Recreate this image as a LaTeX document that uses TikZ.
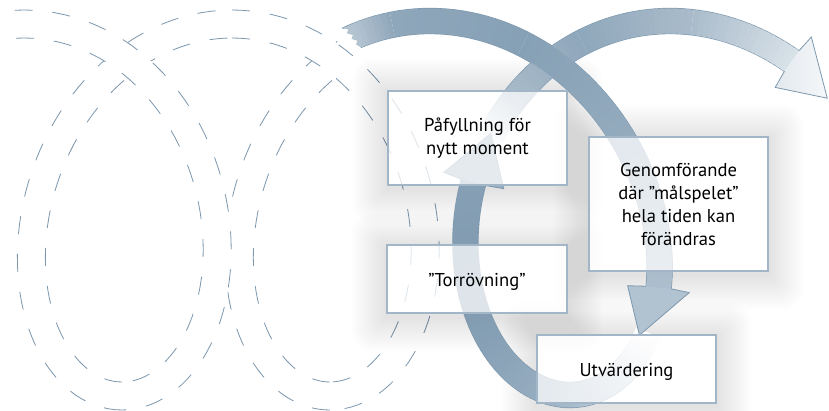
\documentclass[tikz,border=0pt]{standalone}
\usepackage{fontspec}
\setmainfont{PT Sans}
\usetikzlibrary{calc}
\pgfdeclarelayer{dash}
\pgfdeclarelayer{shad}
\pgfdeclarelayer{arcs}
\pgfsetlayers{dash,shad,arcs,main}
\definecolor{dashc}{HTML}{7B96AD}
\definecolor{bd}{HTML}{7D98AE}
\definecolor{boxc}{HTML}{A3B6C7}
\definecolor{c1a}{HTML}{B3C3D0}
\definecolor{c1b}{HTML}{8FA7BB}
\definecolor{c1c}{HTML}{86A0B5}
\definecolor{c1d}{HTML}{94ABBE}
\definecolor{c1e}{HTML}{ADBFCD}
\definecolor{c1h}{HTML}{B1C2D0}
\definecolor{c2a}{HTML}{C2D0DB}
\definecolor{c2b}{HTML}{96ADC0}
\definecolor{c2c}{HTML}{7F99AF}
\definecolor{c2d}{HTML}{869FB4}
\definecolor{c2h}{HTML}{9AAFC1}
\definecolor{c3a}{HTML}{A7BACA}
\definecolor{c3b}{HTML}{8FA7BB}
\definecolor{c3c}{HTML}{AABCCB}
\definecolor{c3d}{HTML}{D9E2E9}
\definecolor{c3h}{HTML}{E3E9EE}
\definecolor{c3t}{HTML}{F5F7F9}

\def\PX{0}\def\PS{0}\def\PR{0}\def\PC{0}\def\PY{0}\def\PRy{0}
\def\setdash{\def\PX{24}\def\PS{33.1}\def\PR{141}\def\PC{-3}\def\PY{210}\def\PRy{186}}
\def\setcol{\def\PX{430}\def\PS{38.2}\def\PR{152}\def\PC{10}\def\PY{208}\def\PRy{187}}

\pgfmathdeclarefunction{ex}{2}{%
  \begingroup
  \pgfmathparse{\PS+\PR*cos(deg(#1))+\PC*sin(deg(#1))}\let\dxx\pgfmathresult
  \pgfmathparse{\PRy*sin(deg(#1))}\let\dyy\pgfmathresult
  \pgfmathparse{veclen(\dxx,\dyy)}\let\lnn\pgfmathresult
  \pgfmathparse{\PX+\PS*(#1)+\PR*sin(deg(#1))+\PC*(1-cos(deg(#1)))-(#2)*(\dyy)/(\lnn)}%
  \pgfmathsmuggle\pgfmathresult
  \endgroup}
\pgfmathdeclarefunction{ey}{2}{%
  \begingroup
  \pgfmathparse{\PS+\PR*cos(deg(#1))+\PC*sin(deg(#1))}\let\dxx\pgfmathresult
  \pgfmathparse{\PRy*sin(deg(#1))}\let\dyy\pgfmathresult
  \pgfmathparse{veclen(\dxx,\dyy)}\let\lnn\pgfmathresult
  \pgfmathparse{\PY-\PRy*cos(deg(#1))+(#2)*(\dxx)/(\lnn)}%
  \pgfmathsmuggle\pgfmathresult
  \endgroup}

% dashed band piece: white band then dashed edges
\newcommand\dpiece[2]{%
  \fill[white] plot[domain=#1:#2,samples=60,variable=\t] ({ex(\t,-14)},{ey(\t,-14)})
     -- plot[domain=#2:#1,samples=60,variable=\t] ({ex(\t,14)},{ey(\t,14)}) -- cycle;
  \draw[dsh] plot[domain=#1:#2,samples=60,variable=\t] ({ex(\t,-14)},{ey(\t,-14)});
  \draw[dsh] plot[domain=#1:#2,samples=60,variable=\t] ({ex(\t,14)},{ey(\t,14)});
}
% graded fill of the colored band
\newcommand\gfill[5]{%
  \foreach \i in {1,...,#3}{%
    \pgfmathsetmacro\ta{#1+(\i-1)*(#2-#1)/#3}%
    \pgfmathsetmacro\tb{min(#1+(\i+0.4)*(#2-#1)/#3,#2)}%
    \pgfmathtruncatemacro\pc{100*(\i-0.5)/#3}%
    \fill[#5!\pc!#4] ({ex(\ta,-\HW)},{ey(\ta,-\HW)}) -- ({ex(\tb,-\HW)},{ey(\tb,-\HW)})
      -- ({ex(\tb,\HW)},{ey(\tb,\HW)}) -- ({ex(\ta,\HW)},{ey(\ta,\HW)}) -- cycle;
  }}
% graded edges of the colored band
\newcommand\gedge[5]{%
  \foreach \i in {1,...,#3}{%
    \pgfmathsetmacro\ta{#1+(\i-1)*(#2-#1)/#3}%
    \pgfmathsetmacro\tb{#1+\i*(#2-#1)/#3}%
    \pgfmathtruncatemacro\pc{100*(\i-0.5)/#3}%
    \draw[#5!\pc!#4, line width=1.3pt, line cap=round]
      ({ex(\ta,-\HW)},{ey(\ta,-\HW)}) -- ({ex(\tb,-\HW)},{ey(\tb,-\HW)})
      ({ex(\ta,\HW)},{ey(\ta,\HW)}) -- ({ex(\tb,\HW)},{ey(\tb,\HW)});
  }}

\begin{document}
\begin{tikzpicture}[x=1pt,y=-1pt,
  dsh/.style={draw=dashc,line width=0.8pt,dash pattern=on 18pt off 20pt},
  box/.style={draw=boxc,line width=1.3pt,fill=white,fill opacity=0.74,text opacity=1,
    align=center,inner sep=0pt,text=black,font=\fontsize{18.6}{23}\selectfont},
  headline/.style={draw=bd,line width=0.8pt,line join=miter}]
\useasboundingbox (0,0) rectangle (829,411);

% ---------- dashed earlier loops ----------
\begin{pgfonlayer}{dash}
\fill[white] (0,0) rectangle (829,411);
\setdash
\dpiece{pi}{2*pi}
\dpiece{3*pi}{12.0}
\dpiece{-0.05}{pi}
\dpiece{2*pi}{3*pi}
\end{pgfonlayer}

% ---------- boxes ----------
\node[box, minimum width=179pt, minimum height=94pt] (pf) at (477.5,138) {Påfyllning för\\nytt moment};
\node[box, minimum width=179pt, minimum height=134pt] (gf) at (678.5,204) {Genomförande\\där ”målspelet”\\hela tiden kan\\förändras};
\node[box, minimum width=180pt, minimum height=68pt, text height=19pt, text depth=4.5pt] (tr) at (477,279) {”Torrövning”};
\node[box, minimum width=179pt, minimum height=68pt, text height=19pt, text depth=4.5pt] (ut) at (626.5,369) {Utvärdering};

% ---------- soft shadows (outside the boxes only) ----------
\begin{pgfonlayer}{shad}
\foreach \n in {pf,gf,tr,ut}{%
  \foreach \k in {1,...,14}{%
    \pgfmathsetmacro\rc{\k*1.6}%
    \pgfmathsetmacro\dd{\k*2.5}%
    \fill[black,opacity=0.007,even odd rule]
      [rounded corners=\rc pt] ([shift={(-\dd,-\dd+3)}]\n.north west) rectangle ([shift={(\dd,\dd+3)}]\n.south east)
      [sharp corners] (\n.north west) rectangle (\n.south east);
  }}
\end{pgfonlayer}

% ---------- coloured spiral arrows ----------
\begin{pgfonlayer}{arcs}
\setcol
\def\HW{12.5}
% edges (drawn first, fills cover inner halves)
\draw[bd, line width=1.3pt] plot[domain=-0.45:-0.40,samples=4,variable=\t] ({ex(\t,-12.5)},{ey(\t,-12.5)});
\gedge{-0.40}{2.02}{60}{bd}{bd}
\gedge{2.3}{2.75}{15}{white}{bd}
\gedge{2.75}{4.86}{55}{bd}{bd}
\gedge{5.05}{5.35}{10}{white}{bd}
\gedge{5.35}{6.96}{45}{bd}{bd}
% arc 3
\gfill{5.05}{5.35}{10}{white}{c3a}
\gfill{5.35}{5.8}{14}{c3a}{c3b}
\gfill{5.8}{6.4}{18}{c3b}{c3c}
\gfill{6.4}{6.96}{18}{c3c}{c3d}
% arc 2
\gfill{2.3}{2.75}{14}{white}{c2a}
\gfill{2.75}{3.4}{20}{c2a}{c2b}
\gfill{3.4}{4.2}{24}{c2b}{c2c}
\gfill{4.2}{4.86}{20}{c2c}{c2d}
% arc 1 with jagged start
\fill[c1a] ({ex(-0.45,-12.5)},{ey(-0.45,-12.5)}) -- ({ex(-0.425,-9)},{ey(-0.425,-9)})
  -- ({ex(-0.44,-6)},{ey(-0.44,-6)}) -- ({ex(-0.415,-2)},{ey(-0.415,-2)})
  -- ({ex(-0.43,1)},{ey(-0.43,1)}) -- ({ex(-0.405,5)},{ey(-0.405,5)})
  -- ({ex(-0.42,8)},{ey(-0.42,8)}) -- ({ex(-0.40,12.5)},{ey(-0.40,12.5)})
  -- ({ex(-0.39,12.5)},{ey(-0.39,12.5)}) -- ({ex(-0.39,-12.5)},{ey(-0.39,-12.5)}) -- cycle;
\gfill{-0.395}{-0.2}{8}{c1a}{c1b}
\gfill{-0.2}{0.5}{22}{c1b}{c1c}
\gfill{0.5}{1.2}{22}{c1c}{c1d}
\gfill{1.2}{2.02}{25}{c1d}{c1e}

% arrowhead of arc 1
\coordinate (a1c) at ({ex(2.02,0)},{ey(2.02,0)});
\coordinate (a1l) at ({ex(2.01,-12.5)},{ey(2.01,-12.5)});
\coordinate (a1r) at ({ex(2.01,12.5)},{ey(2.01,12.5)});
\coordinate (a1wl) at ({ex(2.02,-31)},{ey(2.02,-31)});
\coordinate (a1wr) at ({ex(2.02,31)},{ey(2.02,31)});
\coordinate (a1t) at ($(a1c)+(-19,46)$);
\fill[c1h] (a1l) -- (a1wl) -- (a1t) -- (a1wr) -- (a1r) -- cycle;
\draw[headline] (a1l) -- (a1wl) -- (a1t) -- (a1wr) -- (a1r);

% arrowhead of arc 2
\coordinate (a2c) at ({ex(4.86,0)},{ey(4.86,0)});
\coordinate (a2l) at ({ex(4.85,-12.5)},{ey(4.85,-12.5)});
\coordinate (a2r) at ({ex(4.85,12.5)},{ey(4.85,12.5)});
\coordinate (a2wl) at ({ex(4.86,-31)},{ey(4.86,-31)});
\coordinate (a2wr) at ({ex(4.86,31)},{ey(4.86,31)});
\coordinate (a2t) at ($(a2c)+(17,-47)$);
\fill[c2h] (a2l) -- (a2wl) -- (a2t) -- (a2wr) -- (a2r) -- cycle;
\draw[headline] (a2l) -- (a2wl) -- (a2t) -- (a2wr) -- (a2r);

% arrowhead of arc 3
\coordinate (a3c) at ({ex(6.96,0)},{ey(6.96,0)});
\coordinate (a3l) at ({ex(6.95,-12.5)},{ey(6.95,-12.5)});
\coordinate (a3r) at ({ex(6.95,12.5)},{ey(6.95,12.5)});
\coordinate (a3wl) at ({ex(6.96,-31)},{ey(6.96,-31)});
\coordinate (a3wr) at ({ex(6.96,31)},{ey(6.96,31)});
\coordinate (a3t) at ($(a3c)+(34,36)$);
\path[left color=c3h,right color=c3t] (a3l) -- (a3wl) -- (a3t) -- (a3wr) -- (a3r) -- cycle;
\draw[headline] (a3l) -- (a3wl) -- (a3t) -- (a3wr) -- (a3r);
\end{pgfonlayer}
\end{tikzpicture}
\end{document}
